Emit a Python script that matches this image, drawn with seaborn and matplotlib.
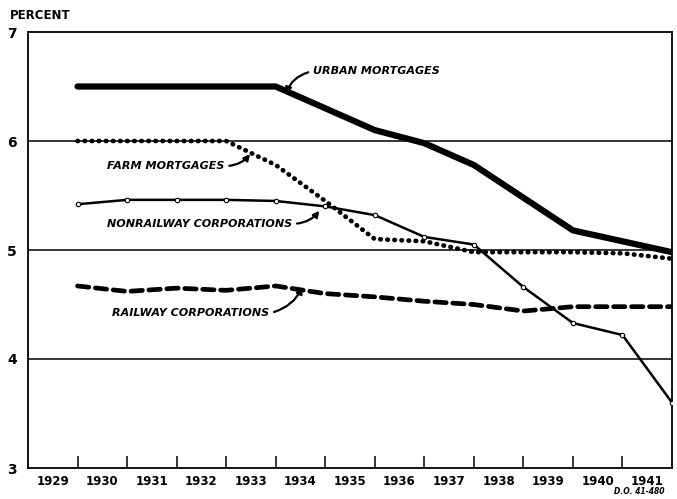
import matplotlib
matplotlib.use("Agg")
import numpy as np
import pandas as pd
import matplotlib.pyplot as plt
import seaborn as sns

# year-end values, 1929 .. 1941
years = [1929, 1930, 1931, 1932, 1933, 1934, 1935, 1936, 1937, 1938, 1939, 1940, 1941]
urban = [6.5, 6.5, 6.5, 6.5, 6.5, 6.3, 6.1, 5.98, 5.78, 5.48, 5.18, 5.08, 4.98]
farm = [6.0, 6.0, 6.0, 6.0, 5.78, 5.45, 5.1, 5.08, 4.98, 4.98, 4.98, 4.97, 4.92]
nonrail = [5.42, 5.46, 5.46, 5.46, 5.45, 5.4, 5.32, 5.12, 5.05, 4.66, 4.33, 4.22, 3.6]
railway = [4.67, 4.62, 4.65, 4.63, 4.67, 4.6, 4.57, 4.53, 4.5, 4.44, 4.48, 4.48, 4.48]

year_labels = [str(y) for y in years]

sns.set_theme(style="white")
plt.rcParams["font.family"] = ["DejaVu Sans"]
plt.rcParams["text.color"] = "black"
plt.rcParams["xtick.color"] = "black"
plt.rcParams["ytick.color"] = "black"

df = pd.DataFrame({"pos": [y - 1928 for y in years],
                   "urban": urban, "farm": farm,
                   "nonrail": nonrail, "railway": railway})

fig = plt.figure(figsize=(6.77, 4.99), dpi=100)
ax = fig.add_axes([28 / 677, 31 / 499, 644 / 677, 436 / 499])

for yv in [4, 5, 6]:
    ax.axhline(yv, color="black", lw=1.1, zorder=1)

sns.lineplot(data=df, x="pos", y="urban", ax=ax, color="black", lw=4.5,
             solid_capstyle="round", zorder=3)
sns.lineplot(data=df, x="pos", y="farm", ax=ax, color="black", lw=3.4,
             zorder=3)
ax.lines[-1].set_linestyle((0, (0.1, 1.4)))
ax.lines[-1].set_dash_capstyle("round")
sns.lineplot(data=df, x="pos", y="nonrail", ax=ax, color="black", lw=1.8,
             marker="o", markersize=3.2, markerfacecolor="white",
             markeredgecolor="black", markeredgewidth=0.8, zorder=4)
sns.lineplot(data=df, x="pos", y="railway", ax=ax, color="black", lw=3.4,
             zorder=3)
ax.lines[-1].set_linestyle((0, (2.4, 1.4)))
ax.lines[-1].set_dash_capstyle("round")

ax.set_xlim(0, 13)
ax.set_ylim(3, 7)
ax.set_xlabel("")
ax.set_ylabel("")

ax.set_xticks([p - 0.5 for p in df["pos"]])
ax.set_xticklabels(year_labels, fontsize=8.5, fontweight="bold")
ax.set_xticks(list(range(1, 13)), minor=True)
ax.tick_params(axis="x", which="major", length=0, pad=5)
ax.tick_params(axis="x", which="minor", direction="in", length=9, width=1.1,
               color="black", bottom=True)
ax.set_yticks([3, 4, 5, 6, 7])
ax.set_yticklabels(["3", "4", "5", "6", "7"], fontsize=10, fontweight="bold")
ax.tick_params(axis="y", length=0, pad=8)

for s in ax.spines.values():
    s.set_color("black")
    s.set_linewidth(1.3)

ax.text(-0.37, 7.09, "PERCENT", fontsize=8.5, fontweight="bold", ha="left", va="bottom")

lab = dict(fontsize=8, fontweight="bold", style="italic", ha="left", va="center",
           color="black")


def arrow(rel, rad):
    return dict(arrowstyle="-|>", color="black", lw=1.6, mutation_scale=9,
                relpos=rel, shrinkA=1, shrinkB=1,
                connectionstyle="arc3,rad=%s" % rad)


ax.annotate("URBAN MORTGAGES", xy=(5.2, 6.42), xytext=(5.75, 6.64),
            arrowprops=arrow((0, 0.5), 0.3), **lab)
ax.annotate("FARM MORTGAGES", xy=(4.5, 5.89), xytext=(1.6, 5.77),
            arrowprops=arrow((1, 0.5), 0.25), **lab)
ax.annotate("NONRAILWAY CORPORATIONS", xy=(5.9, 5.37), xytext=(1.6, 5.24),
            arrowprops=arrow((1, 0.5), 0.25), **lab)
ax.annotate("RAILWAY CORPORATIONS", xy=(5.55, 4.67), xytext=(1.7, 4.42),
            arrowprops=arrow((1, 0.5), 0.25), **lab)

fig.text(665 / 677, 3 / 499, "D.O. 41-480", fontsize=5.5, style="italic",
         fontweight="bold", ha="right", va="bottom")

fig.savefig("out.png", dpi=100)
